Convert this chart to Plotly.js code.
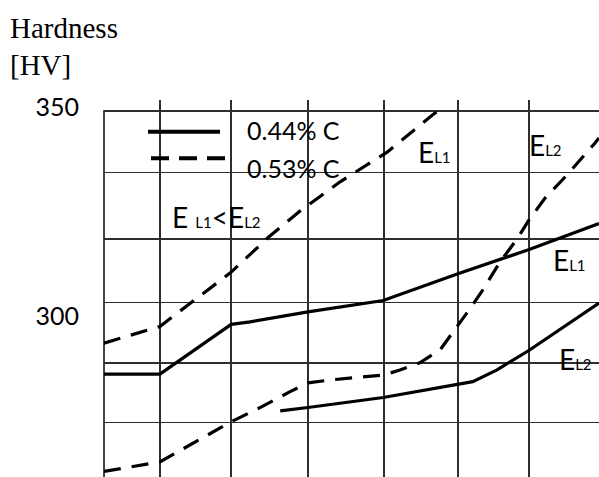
<!DOCTYPE html>
<html>
<head>
<meta charset="utf-8">
<script src="https://cdn.plot.ly/plotly-3.0.1.min.js"></script>
<style>
  html, body { margin: 0; padding: 0; background: #fff; }
  #chart { width: 599px; height: 477px; }
</style>
</head>
<body>
<div id="chart"></div>
<script>
// ---- data ----
const seriesNames = ["0.44% C", "0.53% C"];
const yTickVals = [300, 350];
const yTickText = ["300", "350"];

// 0.44% C, E_L1 (upper solid)
const solidL1X = [0, 1.13, 2.57, 2.95, 4.12, 5.64, 7.15, 8.59, 10];
const solidL1Y = [286.1, 286.1, 298.0, 298.6, 301.0, 303.7, 310.1, 315.9, 322.1];

// 0.44% C, E_L2 (lower solid)
const solidL2X = [3.56, 4.12, 5.64, 6.99, 7.45, 7.94, 8.59, 10];
const solidL2Y = [277.3, 278.1, 280.5, 283.3, 284.3, 287.1, 291.8, 303.1];

// 0.53% C, E_L1 (upper dashed)
const dashL1X = [0, 1.13, 2.57, 3.31, 3.96, 4.77, 5.72, 6.69, 6.77];
const dashL1Y = [293.5, 297.5, 310.5, 318.7, 325.1, 332.1, 339.2, 348.6, 349.0];

// 0.53% C, E_L2 (lower dashed)
const dashL2X = [0, 1.13, 2.57, 3.19, 3.76, 4.12, 4.57, 5.37, 5.66, 5.98, 6.38, 6.79, 7.15, 7.39, 7.64, 8.0, 8.36, 8.57, 8.91, 9.35, 9.92, 10];
const dashL2Y = [262.8, 265.1, 274.7, 278.3, 281.9, 284.0, 284.7, 285.5, 285.9, 287.1, 288.8, 291.9, 297.6, 301.7, 306.0, 312.9, 318.7, 322.7, 328.2, 333.7, 341.4, 342.6];

// ---- layout helpers ----
const gridY = [349.04, 334.38, 318.42, 303.28, 288.76, 274.47];
const gridX = [1.131, 2.566, 4.121, 5.657, 7.152, 8.586];
const yRange = [261.48, 351.67];

const LINE = "#000";
const GRID = "#2e2e2e";
const SANS = "Lato, 'Open Sans', sans-serif";
const SERIF = "'Liberation Serif', 'DejaVu Serif', serif";

function lineTrace(x, y, dash) {
  return {
    type: "scatter", mode: "lines", x: x, y: y,
    line: { color: LINE, width: 3.2, dash: dash },
    hoverinfo: "skip", showlegend: false
  };
}

const traces = [
  lineTrace(solidL1X, solidL1Y, "solid"),
  lineTrace(solidL2X, solidL2Y, "solid"),
  lineTrace(dashL1X, dashL1Y, "17px,11px"),
  lineTrace(dashL2X, dashL2Y, "17px,11px")
];

const sub = s => "<span style='font-size:15px'>" + s + "</span>";

function ann(text, x, y, size, family) {
  return {
    text: text, xref: "paper", yref: "paper", x: x, y: y,
    xanchor: "left", yanchor: "middle", showarrow: false,
    font: { family: family || SANS, size: size || 28, color: "#000" }
  };
}

const annotations = [
  ann("Hardness", -0.1939, 1.1897, 29, SERIF),
  ann("[HV]", -0.1939, 1.0928, 29, SERIF),
  ann(seriesNames[0], 0.2848, 0.9212, 25),
  ann(seriesNames[1], 0.2848, 0.8196, 25),
  ann("E" + sub("L1"), 0.6303, 0.8629),
  ann("E" + sub("L2"), 0.8545, 0.8806),
  ann("E" + sub("L1"), 0.9030, 0.5756),
  ann("E" + sub("L2"), 0.9152, 0.3117),
  ann("E " + sub("L1") + "&lt;E" + sub("L2"), 0.1333, 0.6905)
];

const shapes = [
  // hide the grid above the top border of the table
  { type: "rect", layer: "between", xref: "paper", yref: "y",
    x0: -0.01, x1: 1.01, y0: 349.21, y1: yRange[1],
    fillcolor: "#fff", line: { width: 0 } },
  // left border of the table
  { type: "line", layer: "between", xref: "paper", yref: "y",
    x0: 0, x1: 0, y0: yRange[0], y1: 349.2,
    line: { color: GRID, width: 1.8 } },
  // legend samples
  { type: "line", xref: "paper", yref: "paper",
    x0: (148 - 104) / 495, x1: (220 - 104) / 495,
    y0: (477 - 131.7) / 377, y1: (477 - 131.7) / 377,
    line: { color: LINE, width: 4 } },
  { type: "line", xref: "paper", yref: "paper",
    x0: (151 - 104) / 495, x1: (226 - 104) / 495,
    y0: (477 - 158.3) / 377, y1: (477 - 158.3) / 377,
    line: { color: LINE, width: 4, dash: "18px,10px" } }
];

const layout = {
  width: 599, height: 477,
  margin: { l: 104, r: 0, t: 100, b: 0, pad: 0 },
  paper_bgcolor: "#fff", plot_bgcolor: "#fff",
  showlegend: false,
  xaxis: {
    range: [0, 10], tickmode: "array", tickvals: gridX,
    showticklabels: false, ticks: "", showgrid: true,
    gridcolor: GRID, gridwidth: 1.7, zeroline: false, showline: false,
    fixedrange: true
  },
  yaxis: {
    range: yRange, tickmode: "array",
    tickvals: yTickVals, ticktext: yTickText, ticks: "",
    showgrid: false, zeroline: false, showline: false,
    ticklabelstandoff: 24,
    tickfont: { family: SANS, size: 25, color: "#000" },
    minor: { tickmode: "array", tickvals: gridY, showgrid: true,
             gridcolor: GRID, gridwidth: 1.3, ticks: "" },
    fixedrange: true
  },
  annotations: annotations,
  shapes: shapes
};

Plotly.newPlot("chart", traces, layout, { staticPlot: true, displayModeBar: false });
</script>
</body>
</html>
